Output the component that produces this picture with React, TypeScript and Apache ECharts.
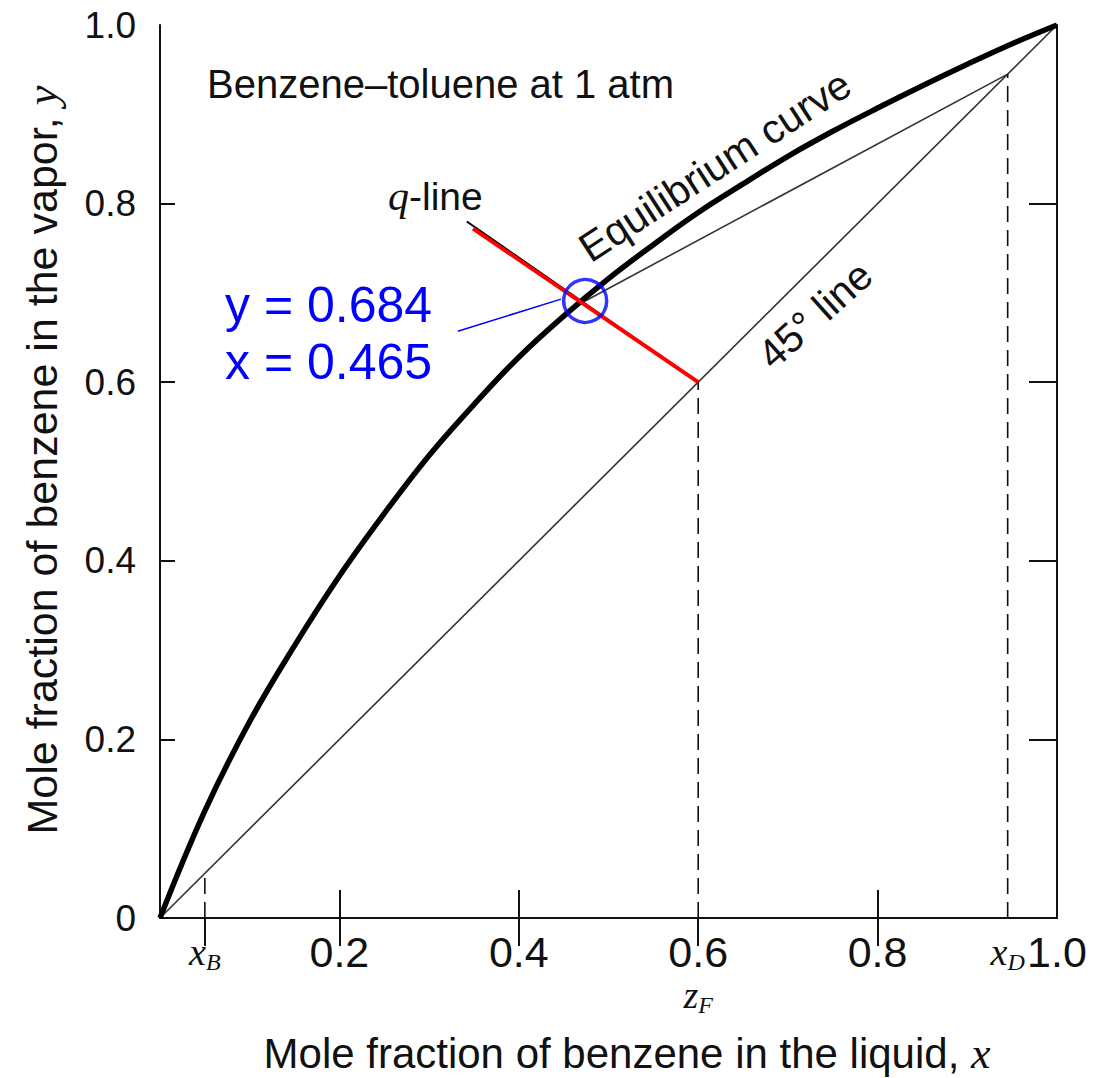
import React, { useEffect, useRef } from "react";
import * as echarts from "echarts";

// Equilibrium curve (x = liquid, y = vapor)
const eqX = [0, 0.05, 0.1, 0.15, 0.2, 0.25, 0.3, 0.35, 0.4, 0.45, 0.5, 0.55, 0.6, 0.65, 0.7, 0.75, 0.8, 0.85, 0.9, 0.95, 1.0];
const eqY = [0, 0.12, 0.22, 0.305, 0.383, 0.453, 0.518, 0.575, 0.628, 0.674, 0.716, 0.754, 0.79, 0.822, 0.853, 0.881, 0.907, 0.932, 0.956, 0.979, 1.0];

// Key compositions
const xB = 0.05;
const zF = 0.6;
const xD = 0.945;

// Pinch point (intersection of q-line and equilibrium curve) as drawn
const pinch = [0.474, 0.691];
// q-line end points
const qRedEnd = [0.349, 0.772];
const qBlackEnd = [0.342, 0.78];
// leader line from annotation to circle
const leaderFrom = [0.332, 0.657];
const leaderTo = [0.447, 0.693];

const pinchLabels = ["y = 0.684", "x = 0.465"];

// tick values
const xLabelValues = [xB, 0.2, 0.4, 0.6, 0.8, xD, 1.0];
const xBottomTicks = [0.2, 0.4, 0.8];
const xTopTicks = [xB, 0.2, 0.4, 0.6, 0.8];
const yLabelValues = [0, 0.2, 0.4, 0.6, 0.8, 1.0];
const yTicks = [0.2, 0.4, 0.6, 0.8];

const SANS = "'Liberation Sans', Arial, Helvetica, sans-serif";
const SERIF = "'Liberation Serif', 'Times New Roman', serif";
const INK = "#111";

export default function App() {
  const ref = useRef<HTMLDivElement>(null);

  useEffect(() => {
    if (!ref.current) return;
    const chart = echarts.init(ref.current, null, { renderer: "svg" });

    const near = (a: number, b: number) => Math.abs(a - b) < 1e-6;

    const option: any = {
      animation: false,
      backgroundColor: "#fff",
      grid: { left: 160, top: 25, width: 897, height: 893, containLabel: false, outerBoundsMode: "none" },
      xAxis: [
        {
          type: "value",
          min: 0,
          max: 1,
          position: "bottom",
          splitLine: { show: false },
          axisLine: { show: true, onZero: false, lineStyle: { color: INK, width: 2 } },
          axisTick: {
            show: true,
            inside: true,
            length: 28,
            customValues: xBottomTicks,
            lineStyle: { color: INK, width: 2 },
          },
          axisLabel: {
            show: true,
            customValues: xLabelValues,
            margin: 12,
            color: INK,
            fontFamily: SANS,
            fontSize: 43,
            formatter: (v: number) => {
              if (near(v, xB)) return "{it|x}{sb|B}";
              if (near(v, xD)) return "{it|x}{sb|D}";
              if (near(v, zF)) return "0.6\n{it|z}{sb|F}";
              return v.toFixed(1);
            },
            rich: {
              it: { fontFamily: SERIF, fontStyle: "italic", fontSize: 38, color: INK, lineHeight: 44 },
              sb: {
                fontFamily: SERIF,
                fontStyle: "italic",
                fontSize: 24,
                color: INK,
                verticalAlign: "bottom",
                lineHeight: 24,
                padding: [14, 0, 0, 0],
              },
            },
          },
        },
        {
          type: "value",
          min: 0,
          max: 1,
          position: "top",
          splitLine: { show: false },
          axisLine: { show: false },
          axisTick: {
            show: true,
            inside: true,
            length: 28,
            customValues: xTopTicks,
            lineStyle: { color: INK, width: 2 },
          },
          axisLabel: { show: false },
        },
      ],
      yAxis: [
        {
          type: "value",
          min: 0,
          max: 1,
          position: "left",
          splitLine: { show: false },
          axisLine: { show: true, onZero: false, lineStyle: { color: INK, width: 2 } },
          axisTick: {
            show: true,
            inside: true,
            length: 15,
            customValues: yTicks,
            lineStyle: { color: INK, width: 2 },
          },
          axisLabel: {
            show: true,
            customValues: yLabelValues,
            margin: 24,
            color: INK,
            fontFamily: SANS,
            fontSize: 37,
            formatter: (v: number) => (v === 0 ? "0" : v.toFixed(1)),
          },
        },
        {
          type: "value",
          min: 0,
          max: 1,
          position: "right",
          splitLine: { show: false },
          axisLine: { show: true, onZero: false, lineStyle: { color: INK, width: 2 } },
          axisTick: {
            show: true,
            inside: true,
            length: 28,
            customValues: yTicks,
            lineStyle: { color: INK, width: 2 },
          },
          axisLabel: { show: false },
        },
      ],
      series: [
        {
          name: "45° line",
          type: "line",
          data: [
            [0, 0],
            [1, 1],
          ],
          symbol: "none",
          silent: true,
          lineStyle: { color: "#333", width: 1.6 },
          z: 2,
        },
        {
          name: "operating line",
          type: "line",
          data: [[xD, xD], pinch],
          symbol: "none",
          silent: true,
          lineStyle: { color: "#333", width: 1.6 },
          z: 2,
        },
        {
          name: "xB dashed",
          type: "line",
          data: [
            [xB, 0],
            [xB, xB],
          ],
          symbol: "none",
          silent: true,
          lineStyle: { color: INK, width: 1.6, type: [16, 8] },
          z: 2,
        },
        {
          name: "zF dashed",
          type: "line",
          data: [
            [zF, 0],
            [zF, zF],
          ],
          symbol: "none",
          silent: true,
          lineStyle: { color: INK, width: 1.6, type: [16, 8] },
          z: 2,
        },
        {
          name: "xD dashed",
          type: "line",
          data: [
            [xD, 0],
            [xD, xD],
          ],
          symbol: "none",
          silent: true,
          lineStyle: { color: INK, width: 1.6, type: [16, 8] },
          z: 2,
        },
        {
          name: "Equilibrium curve",
          type: "line",
          smooth: 0.4,
          data: eqX.map((x, i) => [x, eqY[i]]),
          symbol: "none",
          silent: true,
          lineStyle: { color: "#000", width: 5.5 },
          z: 3,
        },
        {
          name: "q-line black",
          type: "line",
          data: [[zF, zF], qBlackEnd],
          symbol: "none",
          silent: true,
          lineStyle: { color: "#000", width: 2 },
          z: 3,
        },
        {
          name: "q-line",
          type: "line",
          data: [[zF, zF], qRedEnd],
          symbol: "none",
          silent: true,
          lineStyle: { color: "#ff0000", width: 4 },
          z: 4,
        },
        {
          name: "leader",
          type: "line",
          data: [leaderFrom, leaderTo],
          symbol: "none",
          silent: true,
          lineStyle: { color: "#0000ff", width: 1.5 },
          z: 5,
        },
        {
          name: "pinch",
          type: "scatter",
          data: [pinch],
          symbol: "circle",
          symbolSize: 43,
          silent: true,
          itemStyle: { color: "rgba(0,0,0,0)", borderColor: "#0000ff", borderWidth: 3.5 },
          z: 6,
        },
      ],
      graphic: [
        {
          type: "text",
          x: 207,
          y: 84,
          style: {
            text: "Benzene\u2013toluene at 1 atm",
            fill: INK,
            font: `40px ${SANS}`,
            align: "left",
            verticalAlign: "middle",
          },
        },
        {
          type: "text",
          x: 715,
          y: 166,
          rotation: (33 * Math.PI) / 180,
          style: {
            text: "Equilibrium curve",
            fill: INK,
            font: `41px ${SANS}`,
            align: "center",
            verticalAlign: "middle",
          },
        },
        {
          type: "text",
          x: 815,
          y: 315,
          rotation: (42 * Math.PI) / 180,
          style: {
            text: "45\u00b0 line",
            fill: INK,
            font: `41px ${SANS}`,
            align: "center",
            verticalAlign: "middle",
          },
        },
        {
          type: "text",
          x: 388,
          y: 196,
          style: {
            text: "{q|q}{l|-line}",
            align: "left",
            verticalAlign: "middle",
            rich: {
              q: { fontFamily: SERIF, fontStyle: "italic", fontSize: 42, fill: INK },
              l: { fontFamily: SANS, fontSize: 39, fill: INK },
            },
          },
        },
        {
          type: "text",
          x: 225,
          y: 305,
          style: {
            text: pinchLabels[0],
            fill: "#0000ff",
            font: `50px ${SANS}`,
            align: "left",
            verticalAlign: "middle",
          },
        },
        {
          type: "text",
          x: 225,
          y: 362,
          style: {
            text: pinchLabels[1],
            fill: "#0000ff",
            font: `50px ${SANS}`,
            align: "left",
            verticalAlign: "middle",
          },
        },
        {
          type: "text",
          x: 42,
          y: 460,
          rotation: Math.PI / 2,
          style: {
            text: "{t|Mole fraction of benzene in the vapor, }{v|y}",
            align: "center",
            verticalAlign: "middle",
            rich: {
              t: { fontFamily: SANS, fontSize: 43, fill: INK },
              v: { fontFamily: SERIF, fontStyle: "italic", fontSize: 45, fill: INK },
            },
          },
        },
        {
          type: "text",
          x: 627,
          y: 1053,
          style: {
            text: "{t|Mole fraction of benzene in the liquid, }{v|x}",
            align: "center",
            verticalAlign: "middle",
            rich: {
              t: { fontFamily: SANS, fontSize: 42, fill: INK },
              v: { fontFamily: SERIF, fontStyle: "italic", fontSize: 44, fill: INK },
            },
          },
        },
      ],
    };

    chart.setOption(option);
    return () => chart.dispose();
  }, []);

  return (
    <div
      ref={ref}
      style={{ position: "absolute", left: 0, top: 0, width: 1100, height: 1078, background: "#fff" }}
    />
  );
}
